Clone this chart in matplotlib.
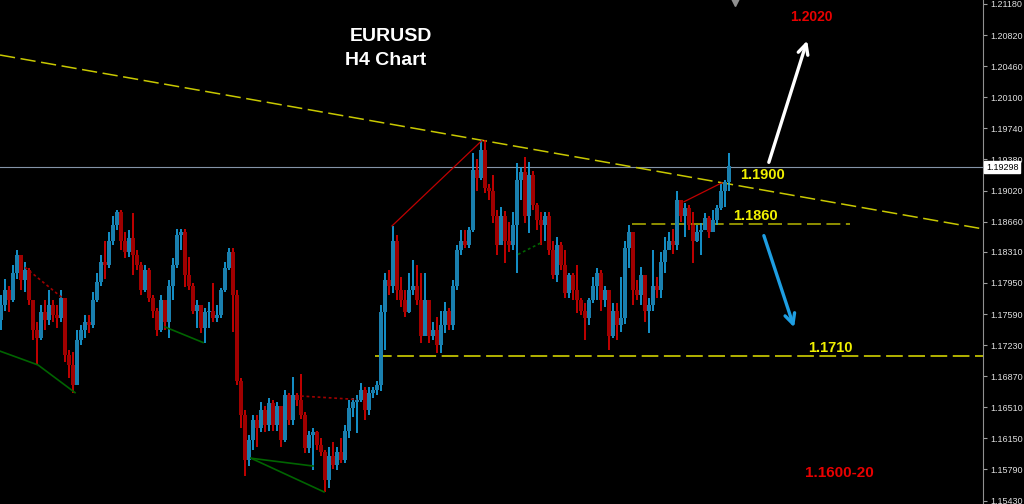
import numpy as np
import matplotlib
matplotlib.use('Agg')
import matplotlib.pyplot as plt

plt.rcParams['font.family'] = ['Liberation Sans', 'DejaVu Sans']
plt.rcParams['lines.scale_dashes'] = False

# EURUSD H4 bars (open of each bar = previous close)
first_open = 1.1752
close = [1.1769, 1.1787, 1.1775, 1.1807, 1.1827, 1.1798, 1.1810, 1.1775, 1.1740, 1.1731,
         1.1761, 1.1752, 1.1769, 1.1758, 1.1754, 1.1777, 1.1711, 1.1700, 1.1677, 1.1729,
         1.1740, 1.1750, 1.1746, 1.1775, 1.1796, 1.1819, 1.1816, 1.1844, 1.1862, 1.1877,
         1.1844, 1.1831, 1.1847, 1.1827, 1.1816, 1.1787, 1.1810, 1.1777, 1.1763, 1.1740,
         1.1775, 1.1750, 1.1792, 1.1816, 1.1850, 1.1854, 1.1804, 1.1792, 1.1763, 1.1769,
         1.1743, 1.1761, 1.1763, 1.1754, 1.1758, 1.1787, 1.1812, 1.1831, 1.1781, 1.1682,
         1.1642, 1.1590, 1.1613, 1.1636, 1.1627, 1.1648, 1.1630, 1.1656, 1.1630, 1.1653,
         1.1613, 1.1665, 1.1636, 1.1665, 1.1659, 1.1642, 1.1604, 1.1619, 1.1622, 1.1607,
         1.1599, 1.1567, 1.1595, 1.1584, 1.1599, 1.1590, 1.1624, 1.1650, 1.1657, 1.1659,
         1.1671, 1.1648, 1.1668, 1.1671, 1.1677, 1.1761, 1.1798, 1.1792, 1.1844, 1.1787,
         1.1775, 1.1761, 1.1787, 1.1792, 1.1775, 1.1734, 1.1775, 1.1734, 1.1740, 1.1723,
         1.1746, 1.1763, 1.1746, 1.1792, 1.1833, 1.1844, 1.1839, 1.1856, 1.1926, 1.1916,
         1.1949, 1.1905, 1.1902, 1.1873, 1.1839, 1.1873, 1.1844, 1.1839, 1.1862, 1.1914,
         1.1923, 1.1873, 1.1920, 1.1885, 1.1868, 1.1862, 1.1873, 1.1833, 1.1804, 1.1839,
         1.1816, 1.1783, 1.1804, 1.1787, 1.1775, 1.1763, 1.1754, 1.1775, 1.1792, 1.1807,
         1.1775, 1.1787, 1.1734, 1.1763, 1.1746, 1.1754, 1.1835, 1.1854, 1.1787, 1.1781,
         1.1804, 1.1763, 1.1769, 1.1792, 1.1787, 1.1819, 1.1833, 1.1844, 1.1839, 1.1891,
         1.1873, 1.1882, 1.1862, 1.1844, 1.1854, 1.1856, 1.1870, 1.1854, 1.1868, 1.1882,
         1.1902, 1.1912, 1.1930]
high = [1.1781, 1.1800, 1.1792, 1.1816, 1.1833, 1.1824, 1.1819, 1.1812, 1.1775, 1.1750,
        1.1769, 1.1775, 1.1787, 1.1775, 1.1769, 1.1787, 1.1778, 1.1717, 1.1715, 1.1740,
        1.1746, 1.1758, 1.1758, 1.1784, 1.1807, 1.1827, 1.1844, 1.1854, 1.1873, 1.1879,
        1.1880, 1.1854, 1.1856, 1.1876, 1.1833, 1.1819, 1.1816, 1.1812, 1.1781, 1.1766,
        1.1781, 1.1775, 1.1798, 1.1824, 1.1858, 1.1858, 1.1858, 1.1825, 1.1795, 1.1775,
        1.1769, 1.1766, 1.1773, 1.1795, 1.1769, 1.1789, 1.1819, 1.1835, 1.1836, 1.1787,
        1.1685, 1.1648, 1.1619, 1.1642, 1.1642, 1.1657, 1.1653, 1.1662, 1.1659, 1.1657,
        1.1653, 1.1671, 1.1667, 1.1686, 1.1668, 1.1690, 1.1645, 1.1624, 1.1627, 1.1624,
        1.1615, 1.1601, 1.1605, 1.1611, 1.1605, 1.1615, 1.1630, 1.1659, 1.1662, 1.1665,
        1.1679, 1.1674, 1.1674, 1.1675, 1.1682, 1.1769, 1.1806, 1.1810, 1.1861, 1.1850,
        1.1802, 1.1787, 1.1806, 1.1821, 1.1816, 1.1806, 1.1807, 1.1775, 1.1750, 1.1755,
        1.1763, 1.1773, 1.1766, 1.1798, 1.1839, 1.1856, 1.1856, 1.1860, 1.1945, 1.1939,
        1.1960, 1.1960, 1.1910, 1.1920, 1.1879, 1.1883, 1.1878, 1.1865, 1.1877, 1.1934,
        1.1929, 1.1941, 1.1935, 1.1925, 1.1888, 1.1877, 1.1877, 1.1877, 1.1844, 1.1848,
        1.1842, 1.1833, 1.1807, 1.1806, 1.1816, 1.1778, 1.1772, 1.1778, 1.1802, 1.1812,
        1.1810, 1.1792, 1.1787, 1.1772, 1.1772, 1.1802, 1.1844, 1.1862, 1.1854, 1.1798,
        1.1813, 1.1804, 1.1778, 1.1833, 1.1802, 1.1831, 1.1848, 1.1854, 1.1858, 1.1902,
        1.1891, 1.1888, 1.1885, 1.1877, 1.1862, 1.1864, 1.1876, 1.1873, 1.1879, 1.1885,
        1.1910, 1.1914, 1.1946]
low = [1.1740, 1.1763, 1.1761, 1.1773, 1.1800, 1.1787, 1.1784, 1.1769, 1.1729, 1.1700,
       1.1729, 1.1740, 1.1746, 1.1750, 1.1743, 1.1750, 1.1703, 1.1685, 1.1668, 1.1677,
       1.1723, 1.1731, 1.1737, 1.1743, 1.1773, 1.1792, 1.1800, 1.1812, 1.1839, 1.1856,
       1.1833, 1.1824, 1.1825, 1.1804, 1.1810, 1.1781, 1.1784, 1.1773, 1.1754, 1.1734,
       1.1738, 1.1740, 1.1731, 1.1775, 1.1812, 1.1833, 1.1790, 1.1787, 1.1759, 1.1743,
       1.1737, 1.1726, 1.1743, 1.1750, 1.1750, 1.1754, 1.1784, 1.1810, 1.1738, 1.1677,
       1.1627, 1.1572, 1.1583, 1.1601, 1.1605, 1.1622, 1.1622, 1.1624, 1.1624, 1.1624,
       1.1605, 1.1611, 1.1630, 1.1630, 1.1653, 1.1638, 1.1598, 1.1598, 1.1578, 1.1601,
       1.1595, 1.1553, 1.1558, 1.1580, 1.1578, 1.1587, 1.1587, 1.1615, 1.1640, 1.1621,
       1.1657, 1.1636, 1.1642, 1.1662, 1.1665, 1.1670, 1.1717, 1.1781, 1.1783, 1.1775,
       1.1767, 1.1755, 1.1760, 1.1781, 1.1769, 1.1725, 1.1733, 1.1726, 1.1729, 1.1714,
       1.1714, 1.1737, 1.1740, 1.1740, 1.1787, 1.1827, 1.1835, 1.1836, 1.1854, 1.1902,
       1.1914, 1.1899, 1.1891, 1.1864, 1.1827, 1.1839, 1.1818, 1.1831, 1.1833, 1.1807,
       1.1891, 1.1864, 1.1853, 1.1879, 1.1856, 1.1839, 1.1844, 1.1827, 1.1800, 1.1796,
       1.1810, 1.1778, 1.1778, 1.1775, 1.1760, 1.1758, 1.1729, 1.1746, 1.1772, 1.1775,
       1.1763, 1.1767, 1.1717, 1.1731, 1.1729, 1.1738, 1.1748, 1.1812, 1.1769, 1.1775,
       1.1769, 1.1750, 1.1737, 1.1762, 1.1778, 1.1778, 1.1806, 1.1833, 1.1829, 1.1833,
       1.1865, 1.1848, 1.1856, 1.1818, 1.1842, 1.1827, 1.1856, 1.1847, 1.1854, 1.1862,
       1.1879, 1.1883, 1.1902]

current_price = 1.19298
price_ticks = [1.21180, 1.20820, 1.20460, 1.20100, 1.19740, 1.19380, 1.19020, 1.18660,
               1.18310, 1.17950, 1.17590, 1.17230, 1.16870, 1.16510, 1.16150, 1.15790, 1.15430]

# drawn objects: (bar index, price)
trend_line = [(-0.25, 1.20589), (245.5, 1.18575)]
level_1860 = [(157.75, 1.1863), (212.25, 1.1863)]
level_1710 = [(93.5, 1.1710), (245.5, 1.1710)]
zz_red = [[(97.75, 1.1861), (120.25, 1.1960)], [(170.75, 1.1889), (180.25, 1.1911)]]
zz_red_dot = [[(6, 1.1813), (15.25, 1.1778)], [(75, 1.1664), (89, 1.1660)]]
zz_green = [[(-0.25, 1.1716), (9.25, 1.1700), (18.5, 1.1668)],
            [(41, 1.1744), (50.5, 1.1726)],
            [(62.5, 1.1592), (78, 1.1583)],
            [(62.5, 1.1592), (80.75, 1.1553)]]
zz_green_dot = [(129.25, 1.1828), (135.25, 1.1842)]

c = np.array(close)
o = np.r_[first_open, c[:-1]]
h = np.array(high)
l = np.array(low)
x = np.arange(len(c))
up = c >= o

fig = plt.figure(figsize=(10.24, 5.04), dpi=100, facecolor='black')
ax = fig.add_axes([0, 0, 983 / 1024, 1])
ax.set_facecolor('black')

# candles
ax.vlines(x[up], l[up], h[up], color='#18aaec', lw=1.2, zorder=3)
ax.vlines(x[~up], l[~up], h[~up], color='#e40000', lw=1.2, zorder=3)
ax.bar(x[up], c[up] - o[up], bottom=o[up], width=0.85, color='#1a7fae', zorder=4)
ax.bar(x[~up], o[~up] - c[~up], bottom=c[~up], width=0.85, color='#a00000', zorder=4)


def draw(pts, **kw):
    xs, ys = zip(*pts)
    ax.plot(xs, ys, **kw)


draw(trend_line, color='#c8c800', lw=1.1, dashes=(11, 4), zorder=2)
draw(level_1860, color='#a8a800', lw=1.2, dashes=(10, 4), zorder=2)
draw(level_1710, color='#d0d000', lw=1.2, dashes=(12, 4), zorder=2)
for seg in zz_red:
    draw(seg, color='#c00000', lw=0.9, zorder=5)
for seg in zz_red_dot:
    draw(seg, color='#a00000', lw=1.2, dashes=(2, 2), zorder=5)
for seg in zz_green:
    draw(seg, color='#006400', lw=1.2, zorder=5)
draw(zz_green_dot, color='#006400', lw=1.2, dashes=(2, 2), zorder=5)

# current price line and tag
ax.axhline(current_price, color='#8494a8', lw=0.8, zorder=1)
ax.text(1.003, current_price - 0.0001, '%.5f' % current_price, transform=ax.get_yaxis_transform(),
        ha='left', va='center', fontsize=6.5, color='black', clip_on=False,
        bbox=dict(facecolor='white', edgecolor='white', pad=1.2), zorder=10)


def px(xp, yp):
    # pixel position on the picture -> (bar index, price)
    return (xp - 1) / 4, 1.21180 - (yp - 4) * 0.0001158


ax.annotate('', xy=px(808, 38), xytext=px(768, 165),
            arrowprops=dict(arrowstyle='->', color='white', lw=2.4, mutation_scale=18))
ax.annotate('', xy=px(795, 330), xytext=px(763, 233),
            arrowprops=dict(arrowstyle='->', color='#1e9ee2', lw=2.4, mutation_scale=18))

ax.text(*px(350, 37), 'EURUSD', color='white', fontsize=14, weight='bold', va='center', ha='left')
ax.text(*px(345, 61), 'H4 Chart', color='white', fontsize=14, weight='bold', va='center', ha='left')
ax.text(*px(790, 17), '1.2020', color='#e80000', fontsize=10, weight='bold', va='center', ha='left')
ax.text(*px(740, 175), '1.1900', color='#f0f000', fontsize=10.5, weight='bold', va='center', ha='left')
ax.text(*px(733, 216), '1.1860', color='#f0f000', fontsize=10.5, weight='bold', va='center', ha='left')
ax.text(*px(808, 348), '1.1710', color='#f0f000', fontsize=10.5, weight='bold', va='center', ha='left')
ax.text(*px(805, 473), '1.1600-20', color='#e80000', fontsize=11, weight='bold', va='center', ha='left')

ax.plot(*px(735, 2), marker='v', color='#909090', ms=6, clip_on=False)

ax.set_xlim(-0.25, 245.5)
ax.set_ylim(1.15390, 1.21226)
ax.set_xticks([])
ax.yaxis.tick_right()
ax.set_yticks(price_ticks)
ax.set_yticklabels(['%.5f' % t for t in price_ticks])
ax.tick_params(axis='y', colors='#a0a0a0', labelcolor='#e0e0e0', labelsize=6.5, length=3, width=0.8, pad=2)
for side in ['left', 'top', 'bottom']:
    ax.spines[side].set_visible(False)
ax.spines['right'].set_color('#909090')

fig.savefig('out.png', dpi=100, facecolor='black')
